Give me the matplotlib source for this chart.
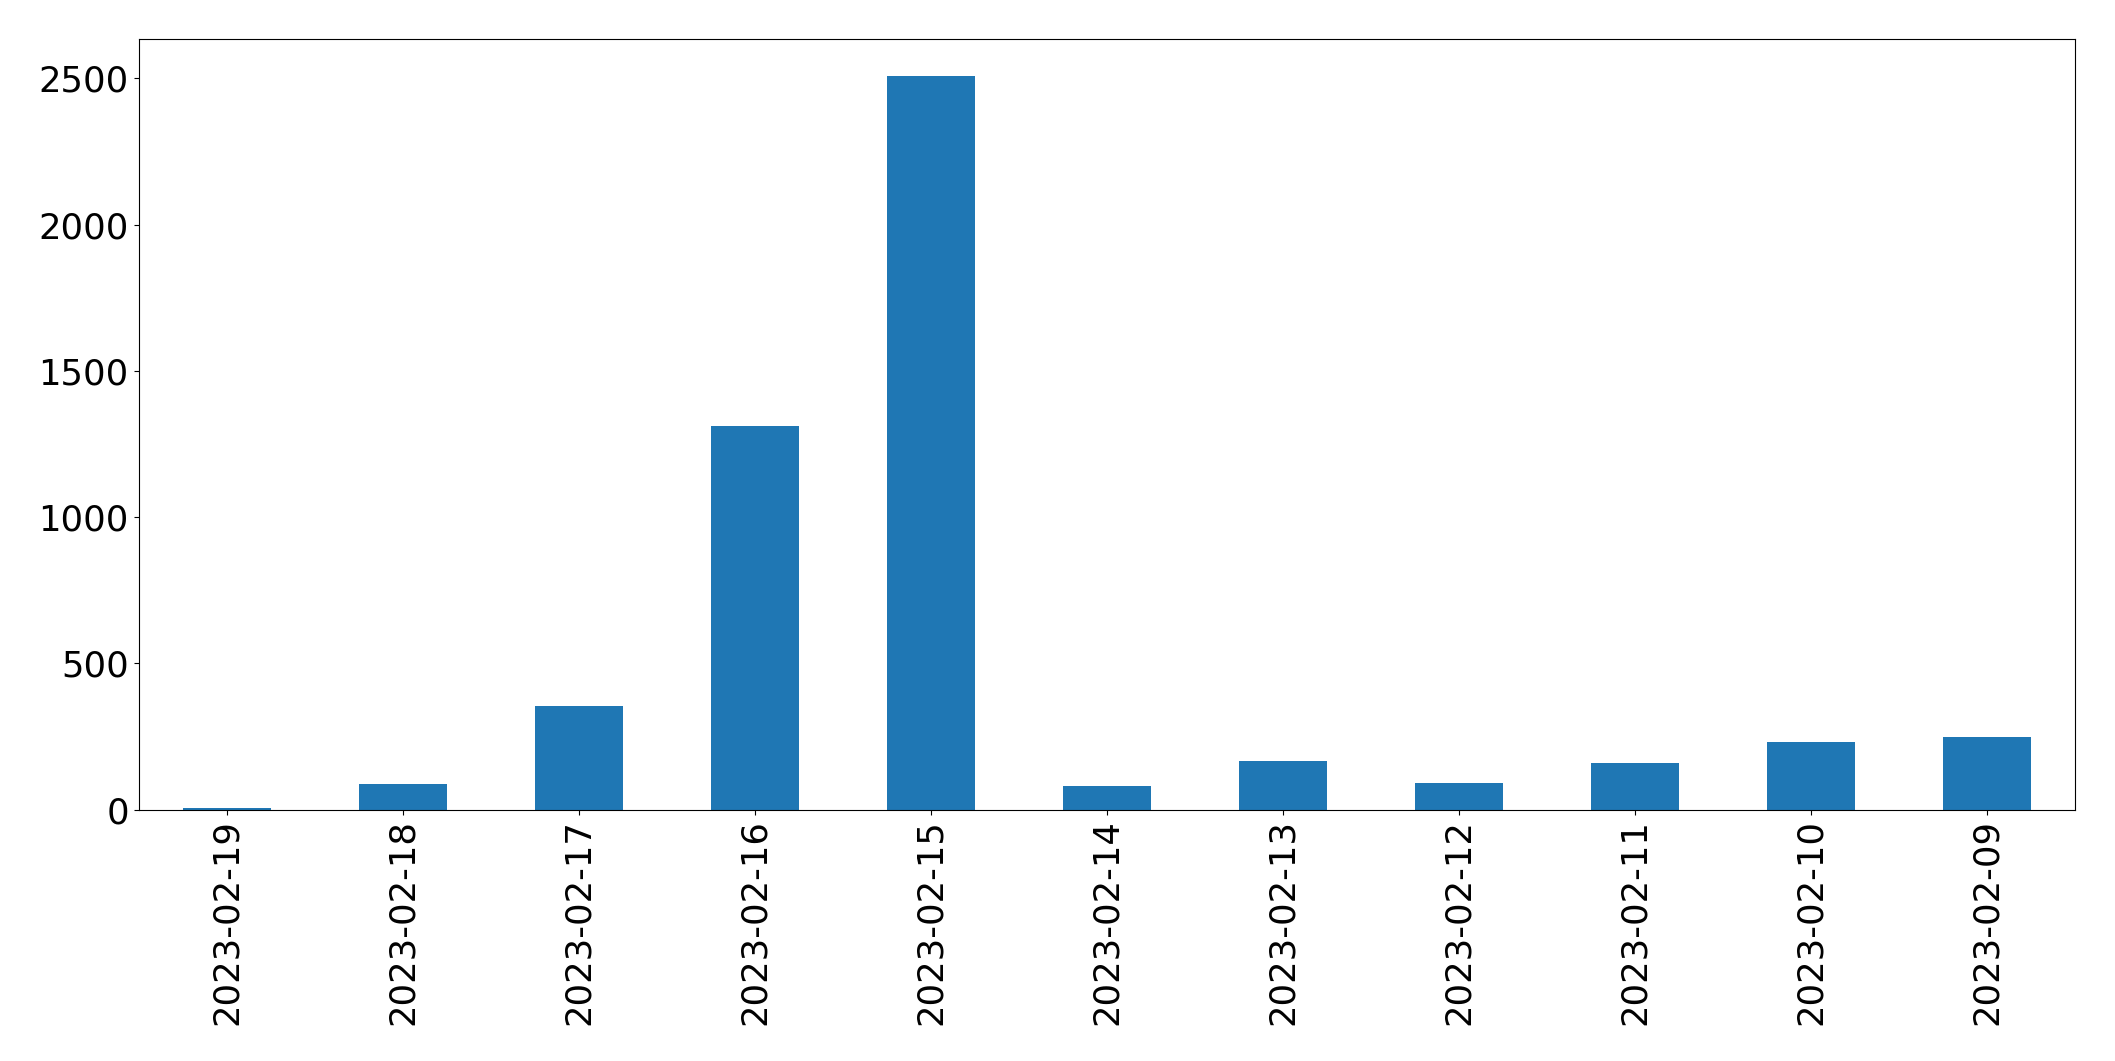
import matplotlib.pyplot as plt

# daily counts, as in the original (newest date first)
dates = ["2023-02-19", "2023-02-18", "2023-02-17", "2023-02-16", "2023-02-15",
         "2023-02-14", "2023-02-13", "2023-02-12", "2023-02-11", "2023-02-10",
         "2023-02-09"]
counts = [5, 87, 353, 1311, 2508, 80, 165, 90, 158, 230, 247]

fig, ax = plt.subplots(figsize=(21.15, 10.61), dpi=100)
ax.bar(range(len(dates)), counts, width=0.5, color="#1f77b4")
ax.set_xticks(range(len(dates)))
ax.set_xticklabels(dates, rotation=90)
ax.set_xlim(-0.5, len(dates) - 0.5)
ax.tick_params(labelsize=25.5)
fig.subplots_adjust(left=0.0655, right=0.981, top=0.963, bottom=0.237)
plt.savefig("out.png")
